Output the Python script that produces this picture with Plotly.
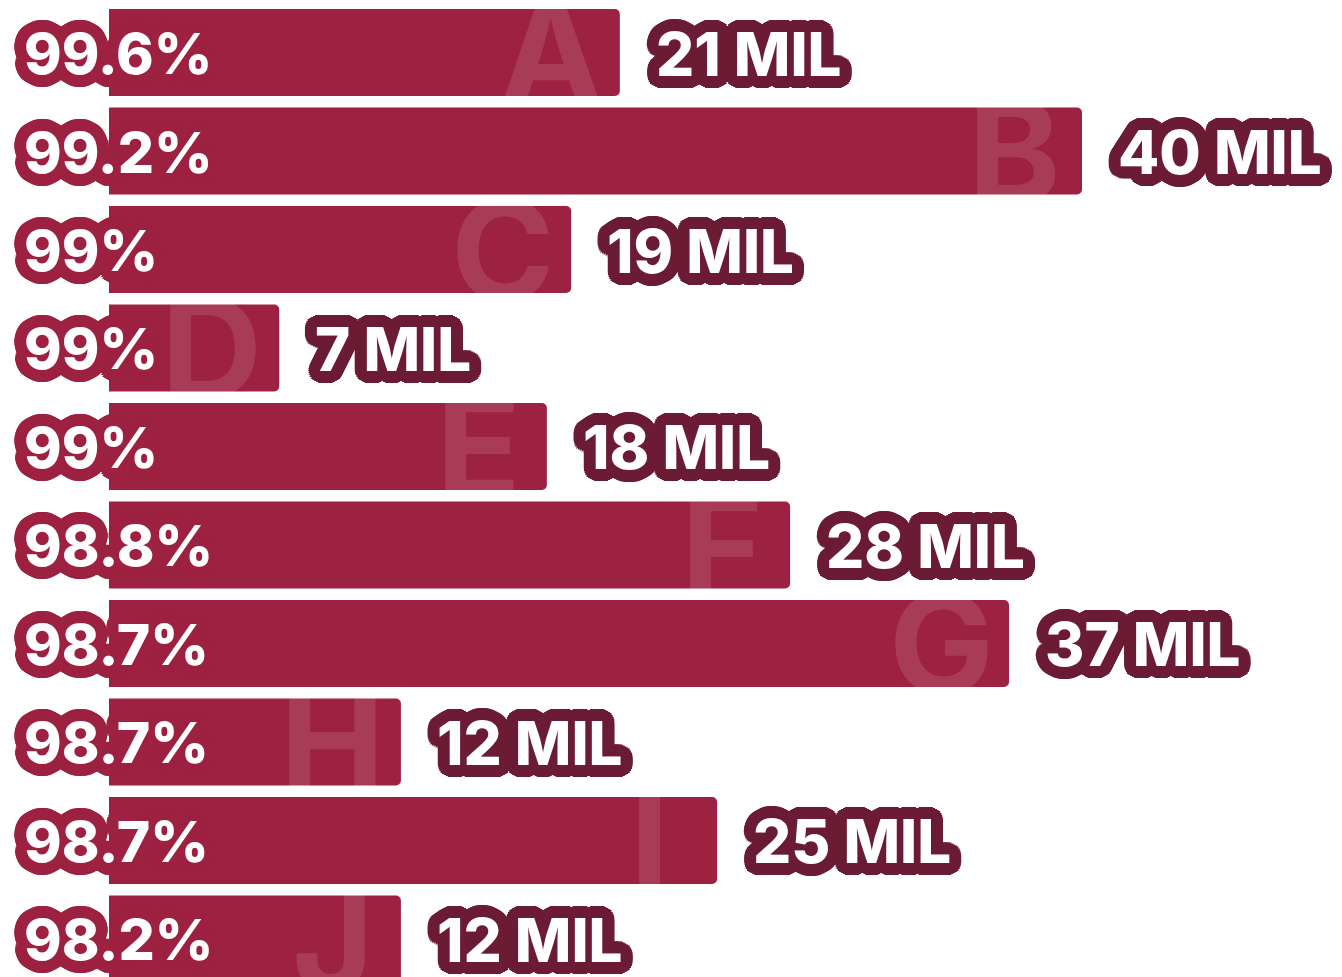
import math
import plotly.graph_objects as go

# Data
letters = ["A", "B", "C", "D", "E", "F", "G", "H", "I", "J"]
percent_labels = ["99.6%", "99.2%", "99%", "99%", "99%", "98.8%", "98.7%", "98.7%", "98.7%", "98.2%"]
values_mil = [21, 40, 19, 7, 18, 28, 37, 12, 25, 12]

BAR = "#9D2140"
DARK = "#6B1C34"
FONT = "Inter, 'Open Sans', Lato, sans-serif"


def stroke(color, radius, steps=36):
    """Build a CSS text-shadow list that draws a solid outline round text."""
    parts = []
    for r in (radius, radius * 0.7, radius * 0.4):
        for k in range(steps):
            a = 2 * math.pi * k / steps
            parts.append(f"{r * math.cos(a):.1f}px {r * math.sin(a):.1f}px 0 {color}")
    return ", ".join(parts)


fig = go.Figure(
    go.Bar(
        x=values_mil,
        y=letters,
        orientation="h",
        width=0.883,
        marker=dict(color=BAR, cornerradius=5, line=dict(width=0)),
        hoverinfo="skip",
    )
)

annotations = []

# large faint letters near the end of each bar
for cat, v in zip(letters, values_mil):
    annotations.append(dict(
        x=v, y=cat, xref="x", yref="y", xshift=-68, yshift=0,
        text=cat, showarrow=False, xanchor="center", yanchor="middle",
        font=dict(family=FONT, size=140, color="rgba(255,255,255,0.12)", weight=700),
    ))

# percentage labels on the left
pct_shadow = stroke(BAR, 12)
for cat, lab in zip(letters, percent_labels):
    annotations.append(dict(
        x=22 / 1342, y=cat, xref="paper", yref="y", yshift=-1,
        text=lab, showarrow=False, xanchor="left", yanchor="middle",
        font=dict(family=FONT, size=57, color="white", weight=800, shadow=pct_shadow),
    ))

# value labels after each bar
val_shadow = stroke(DARK, 12)
for cat, v in zip(letters, values_mil):
    annotations.append(dict(
        x=v, y=cat, xref="x", yref="y", xshift=34, yshift=-1,
        text=f"{v} MIL", showarrow=False, xanchor="left", yanchor="middle",
        font=dict(family=FONT, size=60, color="white", weight=800, shadow=val_shadow),
    ))

fig.update_layout(
    width=1342,
    height=977,
    margin=dict(l=0, r=0, t=0, b=0),
    paper_bgcolor="white",
    plot_bgcolor="white",
    showlegend=False,
    annotations=annotations,
    xaxis=dict(range=[-109 / 24.325, (1342 - 109) / 24.325], visible=False, fixedrange=True),
    yaxis=dict(type="category", categoryorder="array", categoryarray=letters,
               range=[9.386, -0.533], visible=False, fixedrange=True),
)

fig.write_html("out.html")
